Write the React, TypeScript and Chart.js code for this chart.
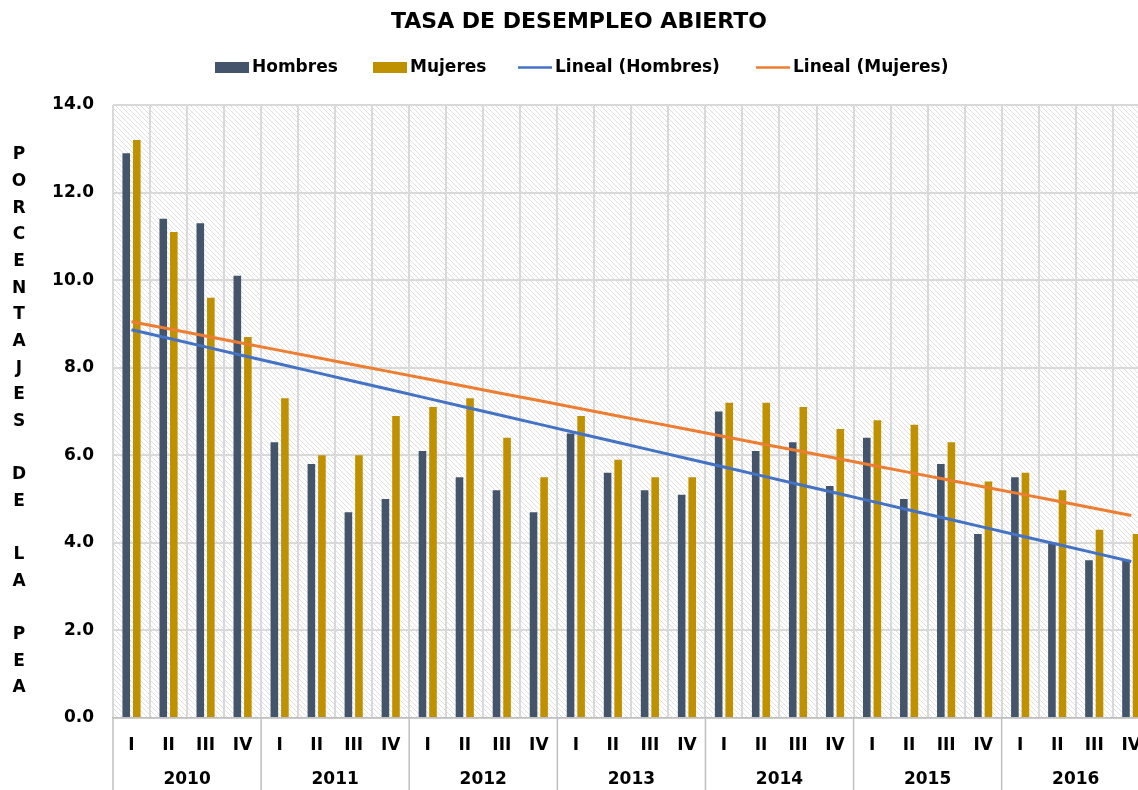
import React, { useEffect, useRef } from 'react';
import { Chart, registerables } from 'chart.js';

Chart.register(...registerables);

const TITLE = 'TASA DE DESEMPLEO ABIERTO';
const Y_TITLE = 'PORCENTAJES DE LA PEA';
const YEARS = ['2010', '2011', '2012', '2013', '2014', '2015', '2016'];
const QUARTERS = ['I', 'II', 'III', 'IV'];
const SERIES_NAMES = ['Hombres', 'Mujeres', 'Lineal (Hombres)', 'Lineal (Mujeres)'];
const HOMBRES = [
  12.9, 11.4, 11.3, 10.1,
  6.3, 5.8, 4.7, 5.0,
  6.1, 5.5, 5.2, 4.7,
  6.5, 5.6, 5.2, 5.1,
  7.0, 6.1, 6.3, 5.3,
  6.4, 5.0, 5.8, 4.2,
  5.5, 4.0, 3.6, 3.6,
];
const MUJERES = [
  13.2, 11.1, 9.6, 8.7,
  7.3, 6.0, 6.0, 6.9,
  7.1, 7.3, 6.4, 5.5,
  6.9, 5.9, 5.5, 5.5,
  7.2, 7.2, 7.1, 6.6,
  6.8, 6.7, 6.3, 5.4,
  5.6, 5.2, 4.3, 4.2,
];
const Y_MIN = 0;
const Y_MAX = 14;
const Y_STEP = 2;

const COLORS = ['#44546A', '#BF9000', '#4472C4', '#ED7D31'];
const FONT = "'DejaVu Sans', sans-serif";

// Least-squares linear trend (Excel "Lineal" trendline) computed from the data
function linearTrend(values: number[]): number[] {
  const n = values.length;
  const xs = values.map((_, i) => i + 1);
  const mx = xs.reduce((s, v) => s + v, 0) / n;
  const my = values.reduce((s, v) => s + v, 0) / n;
  let num = 0;
  let den = 0;
  for (let i = 0; i < n; i++) {
    num += (xs[i] - mx) * (values[i] - my);
    den += (xs[i] - mx) * (xs[i] - mx);
  }
  const b = num / den;
  const a = my - b * mx;
  return xs.map((x) => a + b * x);
}

const LABELS = YEARS.flatMap(() => QUARTERS);

export default function App() {
  const canvasRef = useRef<HTMLCanvasElement | null>(null);

  useEffect(() => {
    const canvas = canvasRef.current;
    if (!canvas) return;

    let pattern: CanvasPattern | null = null;

    const decor = {
      id: 'decor',
      beforeDraw(chart: any) {
        const { ctx, chartArea: a } = chart;
        if (!pattern) {
          const c = document.createElement('canvas');
          c.width = 5;
          c.height = 5;
          const p = c.getContext('2d')!;
          p.fillStyle = '#ffffff';
          p.fillRect(0, 0, 5, 5);
          p.fillStyle = '#e0e0e0';
          for (let i = 0; i < 5; i++) p.fillRect(i, i, 1, 1);
          pattern = ctx.createPattern(c, 'repeat');
        }
        ctx.save();
        ctx.fillStyle = pattern as any;
        ctx.fillRect(a.left, a.top, a.right - a.left, a.bottom - a.top);
        ctx.restore();
      },
      afterDraw(chart: any) {
        const { ctx, chartArea: a } = chart;
        const xs = chart.scales.x;
        const w = xs.getPixelForValue(1) - xs.getPixelForValue(0);
        const H = chart.height;
        ctx.save();
        // year separators below plot
        ctx.strokeStyle = '#BFBFBF';
        ctx.lineWidth = 1.5;
        for (let k = 0; k <= YEARS.length; k++) {
          const idx = Math.min(k * 4, LABELS.length - 1);
          const px = k * 4 < LABELS.length ? xs.getPixelForValue(idx) - w / 2 : xs.getPixelForValue(idx) + w / 2;
          ctx.beginPath();
          ctx.moveTo(px, a.bottom);
          ctx.lineTo(px, H);
          ctx.stroke();
        }
        // year labels
        ctx.fillStyle = '#000';
        ctx.font = `bold 17px ${FONT}`;
        ctx.textAlign = 'center';
        ctx.textBaseline = 'middle';
        YEARS.forEach((yr, k) => {
          const c = (xs.getPixelForValue(k * 4) + xs.getPixelForValue(k * 4 + 3)) / 2;
          ctx.fillText(yr, c, 780);
        });
        // title
        ctx.font = `bold 22px ${FONT}`;
        ctx.fillText(TITLE, 579, 22);
        // stacked y-axis title
        ctx.font = `bold 17px ${FONT}`;
        Y_TITLE.split('').forEach((ch, i) => {
          if (ch !== ' ') ctx.fillText(ch, 19, 155 + i * 26.65);
        });
        // legend
        const starts = [215, 373, 518, 756];
        const ly = 67.5;
        ctx.textAlign = 'left';
        ctx.font = `bold 17px ${FONT}`;
        SERIES_NAMES.forEach((name, i) => {
          const x0 = starts[i];
          if (i < 2) {
            ctx.fillStyle = COLORS[i];
            ctx.fillRect(x0, ly - 5.5, 34, 11);
          } else {
            ctx.strokeStyle = COLORS[i];
            ctx.lineWidth = 2.5;
            ctx.beginPath();
            ctx.moveTo(x0, ly);
            ctx.lineTo(x0 + 34, ly);
            ctx.stroke();
          }
          ctx.fillStyle = '#000';
          ctx.fillText(name, x0 + 37, ly);
        });
        ctx.restore();
      },
    };

    const chart = new Chart(canvas, {
      type: 'bar',
      data: {
        labels: LABELS,
        datasets: [
          {
            type: 'bar',
            label: SERIES_NAMES[0],
            data: HOMBRES,
            backgroundColor: COLORS[0],
            barPercentage: 0.72,
            categoryPercentage: 0.57,
            order: 1,
          },
          {
            type: 'bar',
            label: SERIES_NAMES[1],
            data: MUJERES,
            backgroundColor: COLORS[1],
            barPercentage: 0.72,
            categoryPercentage: 0.57,
            order: 1,
          },
          {
            type: 'line',
            label: SERIES_NAMES[2],
            data: linearTrend(HOMBRES),
            borderColor: COLORS[2],
            borderWidth: 3,
            pointRadius: 0,
            fill: false,
            order: 0,
          },
          {
            type: 'line',
            label: SERIES_NAMES[3],
            data: linearTrend(MUJERES),
            borderColor: COLORS[3],
            borderWidth: 3,
            pointRadius: 0,
            fill: false,
            order: 0,
          },
        ] as any,
      },
      options: {
        animation: false,
        responsive: false,
        devicePixelRatio: 1,
        layout: { padding: { top: 105, left: 0, right: 0, bottom: 0 } },
        plugins: {
          legend: { display: false },
          title: { display: false },
          tooltip: { enabled: false },
        },
        scales: {
          x: {
            type: 'category',
            offset: true,
            grid: {
              display: true,
              offset: true,
              color: '#D9D9D9',
              lineWidth: 2,
              drawTicks: false,
            },
            border: { display: true, color: '#BFBFBF', width: 1.5 },
            ticks: {
              autoSkip: false,
              maxRotation: 0,
              minRotation: 0,
              padding: 17,
              color: '#000',
              font: { family: FONT, weight: 'bold', size: 17 },
            },
            afterFit: (scale: any) => {
              scale.height = 72;
            },
          },
          y: {
            min: Y_MIN,
            max: Y_MAX,
            grid: { color: '#D9D9D9', lineWidth: 2, drawTicks: false },
            border: { display: false },
            ticks: {
              stepSize: Y_STEP,
              padding: 19,
              color: '#000',
              font: { family: FONT, weight: 'bold', size: 17 },
              callback: (v: any) => Number(v).toFixed(1),
            },
            afterFit: (scale: any) => {
              scale.width = 113;
            },
          },
        },
      } as any,
      plugins: [decor],
    });

    return () => {
      chart.destroy();
    };
  }, []);

  return (
    <div
      style={{
        position: 'fixed',
        left: 0,
        top: 0,
        width: 1138,
        height: 790,
        overflow: 'hidden',
        background: '#ffffff',
      }}
    >
      <canvas ref={canvasRef} width={1158} height={790} style={{ display: 'block', width: 1158, height: 790 }} />
    </div>
  );
}
